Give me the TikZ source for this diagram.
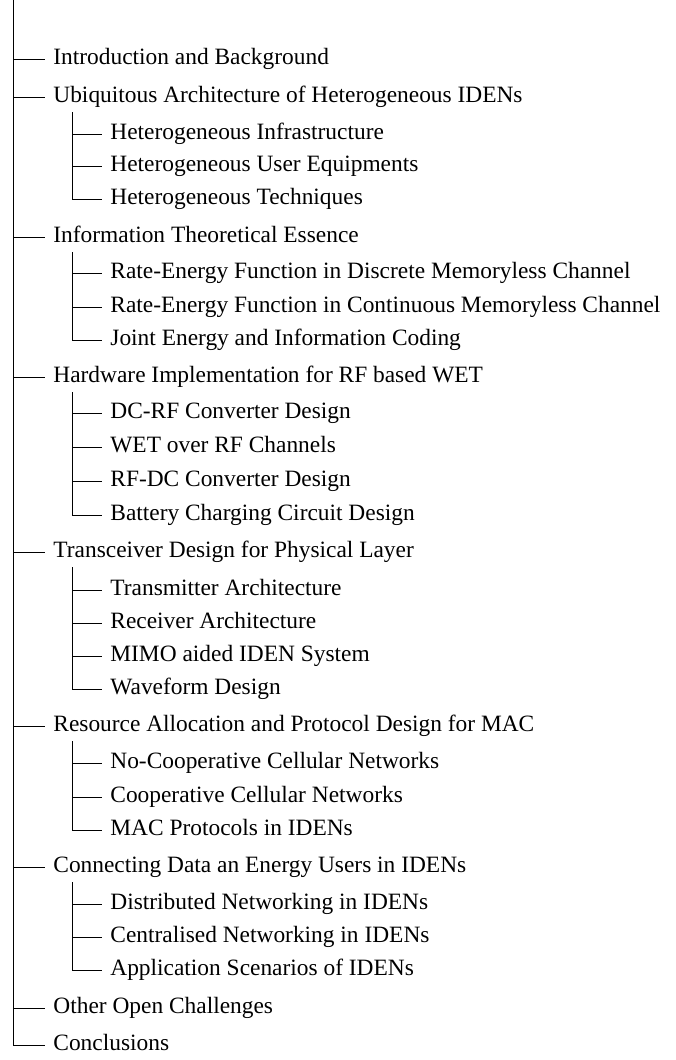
\documentclass[tikz,border=0pt]{standalone}
\usepackage{fontspec}
\setmainfont{Liberation Serif}
\begin{document}
\begin{tikzpicture}[x=0.5pt,y=-0.5pt,
  lbl/.style={anchor=west,inner xsep=4pt,inner ysep=0pt,text height=5.4pt,text depth=0pt,font=\fontsize{11.7}{13}\selectfont},
  conn/.style={line width=0.5pt,black}]
\useasboundingbox (0,0) rectangle (675,1060);
\coordinate (top) at (13,0);
% level 1
\node[lbl] (s1) at (45,59) {Introduction and Background};
\node[lbl] (s2) at (45,97) {Ubiquitous Architecture of Heterogeneous IDENs};
\node[lbl] (s3) at (45,237) {Information Theoretical Essence};
\node[lbl] (s4) at (45,377) {Hardware Implementation for RF based WET};
\node[lbl] (s5) at (45,552) {Transceiver Design for Physical Layer};
\node[lbl] (s6) at (45,726) {Resource Allocation and Protocol Design for MAC};
\node[lbl] (s7) at (45,867) {Connecting Data an Energy Users in IDENs};
\node[lbl] (s8) at (45,1008) {Other Open Challenges};
\node[lbl] (s9) at (45,1045) {Conclusions};
% level 2
\node[lbl] (s2a) at (102,134) {Heterogeneous Infrastructure};
\node[lbl] (s2b) at (102,166) {Heterogeneous User Equipments};
\node[lbl] (s2c) at (102,199) {Heterogeneous Techniques};
\node[lbl] (s3a) at (102,273) {Rate-Energy Function in Discrete Memoryless Channel};
\node[lbl] (s3b) at (102,307) {Rate-Energy Function in Continuous Memoryless Channel};
\node[lbl] (s3c) at (102,340) {Joint Energy and Information Coding};
\node[lbl] (s4a) at (102,413) {DC-RF Converter Design};
\node[lbl] (s4b) at (102,447) {WET over RF Channels};
\node[lbl] (s4c) at (102,481) {RF-DC Converter Design};
\node[lbl] (s4d) at (102,515) {Battery Charging Circuit Design};
\node[lbl] (s5a) at (102,590) {Transmitter Architecture};
\node[lbl] (s5b) at (102,623) {Receiver Architecture};
\node[lbl] (s5c) at (102,656) {MIMO aided IDEN System};
\node[lbl] (s5d) at (102,689) {Waveform Design};
\node[lbl] (s6a) at (102,763) {No-Cooperative Cellular Networks};
\node[lbl] (s6b) at (102,797) {Cooperative Cellular Networks};
\node[lbl] (s6c) at (102,830) {MAC Protocols in IDENs};
\node[lbl] (s7a) at (102,904) {Distributed Networking in IDENs};
\node[lbl] (s7b) at (102,937) {Centralised Networking in IDENs};
\node[lbl] (s7c) at (102,970) {Application Scenarios of IDENs};
% child trunk tops
\coordinate (c2) at (72,112);
\coordinate (c3) at (72,252);
\coordinate (c4) at (72,392);
\coordinate (c5) at (72,567);
\coordinate (c6) at (72,741);
\coordinate (c7) at (72,882);
% main trunk
\draw[conn] (top) |- (s9.west);
\foreach \n in {s1,s2,s3,s4,s5,s6,s7,s8}
  \draw[conn] (top |- \n.west) -- (\n.west);
% sub trunks
\draw[conn] (c2) |- (s2c.west);
\foreach \n in {s2a,s2b} \draw[conn] (c2 |- \n.west) -- (\n.west);
\draw[conn] (c3) |- (s3c.west);
\foreach \n in {s3a,s3b} \draw[conn] (c3 |- \n.west) -- (\n.west);
\draw[conn] (c4) |- (s4d.west);
\foreach \n in {s4a,s4b,s4c} \draw[conn] (c4 |- \n.west) -- (\n.west);
\draw[conn] (c5) |- (s5d.west);
\foreach \n in {s5a,s5b,s5c} \draw[conn] (c5 |- \n.west) -- (\n.west);
\draw[conn] (c6) |- (s6c.west);
\foreach \n in {s6a,s6b} \draw[conn] (c6 |- \n.west) -- (\n.west);
\draw[conn] (c7) |- (s7c.west);
\foreach \n in {s7a,s7b} \draw[conn] (c7 |- \n.west) -- (\n.west);
\end{tikzpicture}
\end{document}
